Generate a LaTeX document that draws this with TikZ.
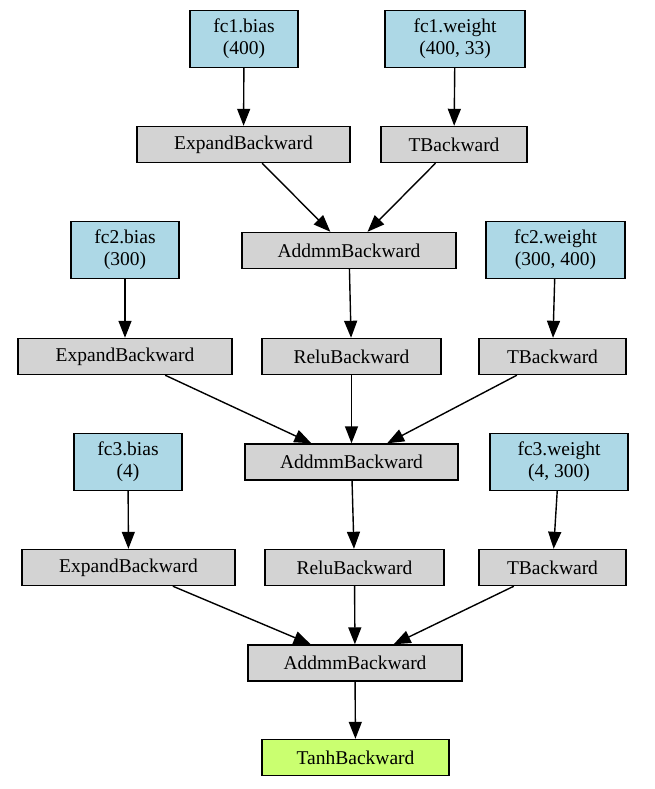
\documentclass[tikz,border=0pt]{standalone}
\usepackage{fontspec}
\setmainfont{Liberation Serif}
\usetikzlibrary{arrows.meta}

\definecolor{paramblue}{RGB}{173,216,230}
\definecolor{opgrey}{RGB}{211,211,211}
\definecolor{outgreen}{RGB}{202,255,112}

\tikzset{
  box/.style={draw=black, line width=1.4pt, rectangle, inner sep=0pt,
    font=\fontsize{19.5}{22}\selectfont, align=center},
  param/.style={box, fill=paramblue, minimum height=57pt},
  op/.style={box, fill=opgrey, minimum height=36pt},
  outnode/.style={box, fill=outgreen, minimum height=36pt},
  flow/.style={line width=1.4pt, -{Triangle[length=17pt,width=13pt]}}
}

\begin{document}
\begin{tikzpicture}[x=1pt,y=-1pt]
\useasboundingbox (0,0) rectangle (655,789);

% layer 1
\node[param, minimum width=108pt] (b1) at (244,39) {fc1.bias\\(400)};
\node[param, minimum width=140pt] (w1) at (455,39) {fc1.weight\\(400, 33)};
\node[op, minimum width=213pt] (e1) at (243.5,144.5) {ExpandBackward};
\node[op, minimum width=146pt] (t1) at (454,144.5) {TBackward};
\node[op, minimum width=214pt] (a1) at (349,250.5) {AddmmBackward};

% layer 2
\node[param, minimum width=108pt] (b2) at (125,250) {fc2.bias\\(300)};
\node[param, minimum width=139pt] (w2) at (555.5,250) {fc2.weight\\(300, 400)};
\node[op, minimum width=214pt] (e2) at (125,356.5) {ExpandBackward};
\node[op, minimum width=179pt] (r1) at (351.5,356.5) {ReluBackward};
\node[op, minimum width=147pt] (t2) at (552.5,356.5) {TBackward};
\node[op, minimum width=213pt] (a2) at (351.5,462) {AddmmBackward};

% layer 3
\node[param, minimum width=108pt] (b3) at (128,462) {fc3.bias\\(4)};
\node[param, minimum width=138pt] (w3) at (559,462) {fc3.weight\\(4, 300)};
\node[op, minimum width=213pt] (e3) at (128.5,567.5) {ExpandBackward};
\node[op, minimum width=179pt] (r2) at (354.5,567.5) {ReluBackward};
\node[op, minimum width=147pt] (t3) at (552.5,567.5) {TBackward};
\node[op, minimum width=214pt] (a3) at (355,663) {AddmmBackward};

% output
\node[outnode, minimum width=187pt] (out) at (355.5,757.5) {TanhBackward};

% edges
\draw[flow] (b1) -- (e1);
\draw[flow] (w1) -- (t1);
\draw[flow] (e1) -- (a1);
\draw[flow] (t1) -- (a1);

\draw[flow] (a1) -- (r1);
\draw[flow] (b2) -- (e2);
\draw[flow] (w2) -- (t2);
\draw[flow] (e2) -- (a2);
\draw[flow] (r1) -- (a2);
\draw[flow] (t2) -- (a2);

\draw[flow] (a2) -- (r2);
\draw[flow] (b3) -- (e3);
\draw[flow] (w3) -- (t3);
\draw[flow] (e3) -- (a3);
\draw[flow] (r2) -- (a3);
\draw[flow] (t3) -- (a3);

\draw[flow] (a3) -- (out);
\end{tikzpicture}
\end{document}
